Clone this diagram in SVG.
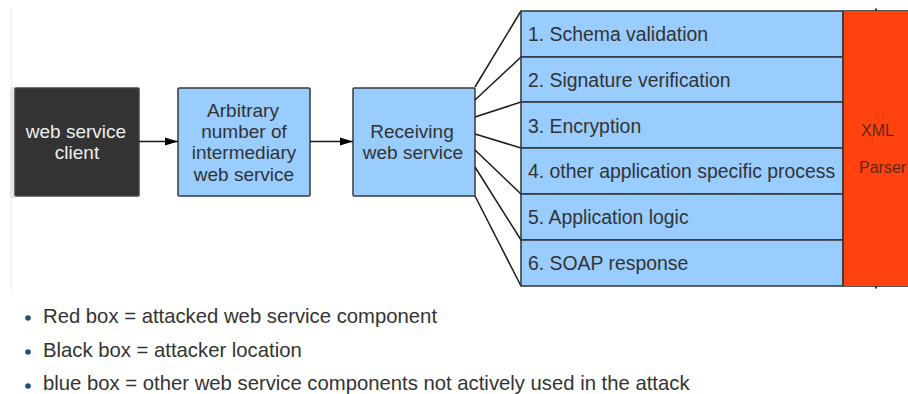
<svg xmlns="http://www.w3.org/2000/svg" width="908" height="394" viewBox="0 0 908 394">
  <defs>
    <marker id="arr" markerWidth="14" markerHeight="10" refX="13" refY="5" orient="auto" markerUnits="userSpaceOnUse">
      <path d="M0,1 L13,5 L0,9 Z" fill="#000"/>
    </marker>
    <style>
      text { font-family: "Liberation Sans", Arial, sans-serif; }
      .box { fill: #99ccff; stroke: #3a3a3a; stroke-width: 1.5; }
      .dark { fill: #333333; stroke: #444; stroke-width: 1.5; }
      .row { fill: #99ccff; stroke: #333; stroke-width: 1.5; }
      .lbl { font-size: 19px; fill: #333; text-anchor: middle; }
      .lblw { font-size: 19px; fill: #eeeeee; text-anchor: middle; }
      .rowt { font-size: 19.4px; fill: #333; }
      .red { fill: #ff420e; stroke: #555; stroke-width: 1; }
      .redt { font-size: 16px; fill: #5a2a14; }
      .conn { stroke: #1a1a1a; stroke-width: 1.5; fill: none; }
      .leg { font-size: 20.3px; fill: #333; }
      .bul { fill: #1f4e7a; }
    </style>
  </defs>
  <rect width="908" height="394" fill="#ffffff"/>
  <line x1="11.5" y1="8" x2="11.5" y2="290" stroke="#f3f1ec" stroke-width="1.5"/>
  <rect x="10" y="87" width="5" height="111" fill="#ebe7df"/>

  <g id="client">
    <rect class="dark" x="15" y="88" width="124" height="108" rx="1"/>
    <text class="lblw" x="76" y="138">web service</text>
    <text class="lblw" x="77" y="159">client</text>
  </g>

  <g id="intermediary">
    <rect class="box" x="178" y="88" width="132" height="108" rx="1"/>
    <text class="lbl" x="243" y="117">Arbitrary</text>
    <text class="lbl" x="244" y="138">number of</text>
    <text class="lbl" x="244" y="159">intermediary</text>
    <text class="lbl" x="244" y="181">web service</text>
  </g>

  <g id="receiving">
    <rect class="box" x="353" y="88" width="122" height="108" rx="1"/>
    <text class="lbl" x="412" y="138">Receiving</text>
    <text class="lbl" x="413" y="159">web service</text>
  </g>

  <g id="connectors">
    <line class="conn" x1="139" y1="141.5" x2="178" y2="141.5" marker-end="url(#arr)"/>
    <line class="conn" x1="310" y1="141.5" x2="353" y2="141.5" marker-end="url(#arr)"/>
    <line class="conn" x1="475" y1="87" x2="521" y2="11"/>
    <line class="conn" x1="475" y1="100" x2="521" y2="57"/>
    <line class="conn" x1="475" y1="117" x2="521" y2="102"/>
    <line class="conn" x1="475" y1="134" x2="521" y2="148"/>
    <line class="conn" x1="475" y1="150" x2="521" y2="194"/>
    <line class="conn" x1="475" y1="167" x2="521" y2="240"/>
    <line class="conn" x1="475" y1="196" x2="521" y2="286"/>
  </g>

  <g id="step1">
    <rect class="row" x="521" y="11" width="322" height="46"/>
    <text class="rowt" x="528" y="41">1. Schema validation</text>
  </g>
  <g id="step2">
    <rect class="row" x="521" y="57" width="322" height="45"/>
    <text class="rowt" x="528" y="87">2. Signature verification</text>
  </g>
  <g id="step3">
    <rect class="row" x="521" y="102" width="322" height="46"/>
    <text class="rowt" x="528" y="133">3. Encryption</text>
  </g>
  <g id="step4">
    <rect class="row" x="521" y="148" width="322" height="46"/>
    <text class="rowt" x="528" y="178">4. other application specific process</text>
  </g>
  <g id="step5">
    <rect class="row" x="521" y="194" width="322" height="46"/>
    <text class="rowt" x="528" y="224">5. Application logic</text>
  </g>
  <g id="step6">
    <rect class="row" x="521" y="240" width="322" height="46"/>
    <text class="rowt" x="528" y="270">6. SOAP response</text>
  </g>

  <g id="xml-parser">
    <rect class="red" x="843" y="10.5" width="70" height="276"/>
    <line x1="843" y1="11" x2="843" y2="286" stroke="#333" stroke-width="1.5"/>
    <rect x="875" y="8.5" width="2" height="2" fill="#333"/>
    <rect x="875" y="286.5" width="2" height="2" fill="#333"/>
    <text class="redt" x="861" y="136">XML</text>
    <text class="redt" x="859" y="173">Parser</text>
  </g>

  <g id="legend">
    <circle class="bul" cx="28" cy="318" r="2.8"/>
    <text class="leg" x="43" y="323">Red box = attacked web service component</text>
    <circle class="bul" cx="28" cy="352" r="2.8"/>
    <text class="leg" x="43" y="357">Black box = attacker location</text>
    <circle class="bul" cx="28" cy="386" r="2.8"/>
    <text class="leg" x="43" y="390">blue box = other web service components not actively used in the attack</text>
  </g>
</svg>
